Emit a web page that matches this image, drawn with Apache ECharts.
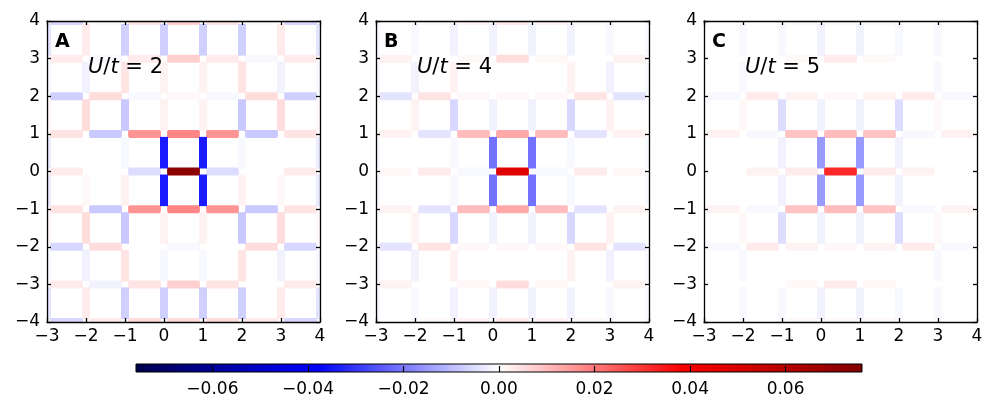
<!DOCTYPE html>
<html lang="en">
<head>
    <meta charset="UTF-8"/>
    <title>bond correlations</title>
    <script src="https://cdn.jsdelivr.net/npm/echarts@6/dist/echarts.min.js"></script>
</head>
<body style="margin:0;background:#fff">
<div id="main" style="width:997px;height:410px"></div>
<script type="text/javascript">
    // panel labels
    var panelNames = ['A', 'B', 'C'];
    var ratios = ['2', '4', '5'];
    var cbTicks = [-0.06, -0.04, -0.02, 0.00, 0.02, 0.04, 0.06];
    var vLimit = 0.076;

    // horizontal bonds: rows y = 4 .. -4, columns are left ends x = -3 .. 3
    var hA = [
        [-0.006, 0.001, 0.004, 0.007, 0.004, 0.001, -0.006],
        [0.003, -0.001, 0.003, 0.007, 0.003, -0.001, 0.003],
        [-0.007, 0.005, -0.001, 0.001, -0.001, 0.005, -0.007],
        [0.004, -0.008, 0.016, 0.018, 0.016, -0.008, 0.004],
        [0.003, 0.000, -0.005, 0.072, -0.005, 0.000, 0.003],
        [0.004, -0.008, 0.016, 0.018, 0.016, -0.008, 0.004],
        [-0.006, 0.005, 0.000, -0.001, 0.000, 0.005, -0.006],
        [0.003, -0.002, 0.004, 0.007, 0.004, 0.000, 0.003],
        [-0.006, 0.003, 0.005, 0.005, 0.005, 0.003, -0.006]
    ];
    // vertical bonds: rows are bottom ends y = 3 .. -4, columns x = -3 .. 4
    var vA = [
        [-0.004, 0.003, -0.007, -0.007, -0.007, -0.007, 0.003, -0.004],
        [-0.001, -0.002, 0.004, 0.002, 0.002, 0.004, -0.002, -0.001],
        [0.001, 0.005, -0.008, 0.002, 0.002, -0.008, 0.005, 0.001],
        [-0.003, 0.000, -0.001, -0.034, -0.034, -0.001, 0.000, -0.003],
        [-0.003, 0.001, 0.002, -0.034, -0.034, 0.002, 0.001, -0.003],
        [0.001, 0.005, -0.008, 0.002, 0.002, -0.008, 0.005, 0.001],
        [-0.001, -0.002, 0.004, -0.001, -0.001, 0.004, -0.002, -0.001],
        [-0.004, 0.003, -0.007, -0.007, -0.007, -0.007, 0.003, -0.004]
    ];

    var hB = [
        [0.000, 0.001, 0.002, 0.003, 0.002, 0.001, 0.000],
        [0.002, 0.000, 0.001, 0.005, 0.001, 0.000, 0.002],
        [-0.004, 0.004, 0.001, 0.001, 0.001, 0.004, -0.004],
        [0.002, -0.004, 0.010, 0.013, 0.010, -0.004, 0.002],
        [0.001, 0.003, -0.001, 0.048, -0.001, 0.003, 0.001],
        [0.002, -0.004, 0.010, 0.013, 0.010, -0.004, 0.002],
        [-0.004, 0.004, 0.001, 0.001, 0.001, 0.004, -0.004],
        [0.002, 0.000, 0.001, 0.005, 0.001, 0.000, 0.002],
        [0.000, 0.001, 0.002, 0.003, 0.002, 0.001, 0.000]
    ];
    var vB = [
        [-0.001, -0.001, -0.002, -0.002, -0.002, -0.002, -0.001, -0.001],
        [-0.001, -0.002, 0.002, 0.000, 0.000, 0.002, -0.002, -0.001],
        [0.000, 0.002, -0.006, -0.002, -0.002, -0.006, 0.002, 0.000],
        [-0.001, 0.000, -0.001, -0.021, -0.021, -0.001, 0.000, -0.001],
        [-0.001, 0.000, -0.001, -0.021, -0.021, -0.001, 0.000, -0.001],
        [0.000, 0.002, -0.006, -0.002, -0.002, -0.006, 0.002, 0.000],
        [-0.001, -0.002, 0.002, 0.000, 0.000, 0.002, -0.002, -0.001],
        [-0.001, -0.001, -0.002, -0.002, -0.002, -0.002, -0.001, -0.001]
    ];

    var hC = [
        [0.000, 0.000, 0.001, 0.001, 0.001, 0.000, 0.000],
        [0.000, 0.000, 0.001, 0.003, 0.001, 0.000, 0.000],
        [-0.001, 0.003, 0.002, 0.001, 0.002, 0.003, -0.001],
        [0.002, -0.001, 0.009, 0.010, 0.009, -0.001, 0.002],
        [0.000, 0.002, 0.003, 0.032, 0.003, 0.002, 0.000],
        [0.002, -0.001, 0.009, 0.010, 0.009, -0.001, 0.002],
        [-0.001, 0.003, 0.002, 0.001, 0.002, 0.003, -0.001],
        [0.000, 0.000, 0.001, 0.003, 0.001, 0.000, 0.000],
        [0.000, 0.000, 0.001, 0.001, 0.001, 0.000, 0.000]
    ];
    var vC = [
        [0.000, -0.001, -0.001, -0.002, -0.002, -0.001, -0.001, 0.000],
        [0.000, -0.001, 0.000, 0.000, 0.000, 0.000, -0.001, 0.000],
        [0.000, 0.001, -0.005, -0.002, -0.002, -0.005, 0.001, 0.000],
        [0.000, 0.000, -0.002, -0.015, -0.015, -0.002, 0.000, 0.000],
        [0.000, 0.000, -0.002, -0.015, -0.015, -0.002, 0.000, 0.000],
        [0.000, 0.001, -0.005, -0.002, -0.002, -0.005, 0.001, 0.000],
        [0.000, -0.001, 0.000, 0.000, 0.000, 0.000, -0.001, 0.000],
        [0.000, -0.001, -0.001, -0.002, -0.002, -0.001, -0.001, 0.000]
    ];

    var seismic = ['#00004d', '#0000ff', '#ffffff', '#ff0000', '#800000'];
    var font = 'DejaVu Sans';

    function bonds(h, v) {
        var out = [];
        for (var r = 0; r < h.length; r++) {
            for (var c = 0; c < h[r].length; c++) {
                out.push([-3 + c, 4 - r, -2 + c, 4 - r, h[r][c]]);
            }
        }
        for (var r = 0; r < v.length; r++) {
            for (var c = 0; c < v[r].length; c++) {
                out.push([-3 + c, 3 - r, -3 + c, 4 - r, v[r][c]]);
            }
        }
        return out;
    }

    function minus(val) {
        return String(val).replace('-', '\u2212');
    }

    function renderBond(params, api) {
        var x1 = api.value(0), y1 = api.value(1), x2 = api.value(2), y2 = api.value(3);
        var s = 0.08;
        if (y1 === y2) { x1 += s; x2 -= s; } else { y1 += s; y2 -= s; }
        var p1 = api.coord([x1, y1]);
        var p2 = api.coord([x2, y2]);
        return {
            type: 'line',
            shape: {x1: p1[0], y1: p1[1], x2: p2[0], y2: p2[1]},
            style: {stroke: api.visual('color'), lineWidth: 8, lineCap: 'butt'}
        };
    }

    var gridLefts = [47, 376, 704];
    var allData = [bonds(hA, vA), bonds(hB, vB), bonds(hC, vC)];

    var grids = [], xAxes = [], yAxes = [], series = [], graphics = [];
    var line = {show: true, onZero: false, lineStyle: {color: '#000', width: 1.3}};
    var tick = {show: true, inside: true, length: 4, lineStyle: {color: '#000', width: 1.3}};
    for (var i = 0; i < 3; i++) {
        grids.push({left: gridLefts[i], top: 21, width: 273, height: 301});
        xAxes.push({
            gridIndex: i, type: 'value', min: -3, max: 4, interval: 1, position: 'bottom', z: 5,
            axisLine: line, axisTick: tick, splitLine: {show: false},
            axisLabel: {color: '#000', fontSize: 17, fontFamily: font, margin: 6, formatter: minus}
        });
        xAxes.push({
            gridIndex: i, type: 'value', min: -3, max: 4, interval: 1, position: 'top', z: 5,
            axisLine: line, axisTick: tick, splitLine: {show: false}, axisLabel: {show: false}
        });
        yAxes.push({
            gridIndex: i, type: 'value', min: -4, max: 4, interval: 1, position: 'left', z: 5,
            axisLine: line, axisTick: tick, splitLine: {show: false},
            axisLabel: {color: '#000', fontSize: 17, fontFamily: font, margin: 7, formatter: minus}
        });
        yAxes.push({
            gridIndex: i, type: 'value', min: -4, max: 4, interval: 1, position: 'right', z: 5,
            axisLine: line, axisTick: tick, splitLine: {show: false}, axisLabel: {show: false}
        });
        series.push({
            type: 'custom', xAxisIndex: 2 * i, yAxisIndex: 2 * i, clip: true,
            encode: {x: [0, 2], y: [1, 3]},
            renderItem: renderBond, data: allData[i]
        });
        graphics.push({
            type: 'text', left: gridLefts[i] + 8, top: 33, z: 100,
            style: {text: panelNames[i], font: 'bold 19px "DejaVu Sans"', fill: '#000'}
        });
        graphics.push({
            type: 'text', left: gridLefts[i] + 41, top: 57, z: 100,
            style: {
                text: '{i|U}/{i|t} = ' + ratios[i],
                font: '21px "DejaVu Sans"', fill: '#000',
                rich: {i: {fontStyle: 'italic', fontSize: 21, fontFamily: font}}
            }
        });
    }

    // colorbar
    grids.push({left: 136, top: 364, width: 726, height: 8});
    xAxes.push({
        gridIndex: 3, type: 'value', min: -vLimit, max: vLimit, position: 'bottom', z: 5,
        axisLine: {show: false}, splitLine: {show: false},
        axisTick: {show: true, inside: true, length: 6, customValues: cbTicks, lineStyle: {color: '#000', width: 1.2}},
        axisLabel: {
            color: '#000', fontSize: 17, fontFamily: font, margin: 9, customValues: cbTicks,
            formatter: function (v) { return minus(v.toFixed(2)); }
        }
    });
    yAxes.push({gridIndex: 3, type: 'value', min: 0, max: 1, show: false});
    var stops = seismic.map(function (c, k) { return {offset: k / (seismic.length - 1), color: c}; });
    series.push({
        type: 'custom', xAxisIndex: 6, yAxisIndex: 6, silent: true,
        data: [[-vLimit, vLimit]],
        renderItem: function (params, api) {
            var p1 = api.coord([api.value(0), 1]);
            var p2 = api.coord([api.value(1), 0]);
            return {
                type: 'rect',
                shape: {x: p1[0], y: p1[1], width: p2[0] - p1[0], height: p2[1] - p1[1]},
                style: {fill: new echarts.graphic.LinearGradient(0, 0, 1, 0, stops), stroke: '#000', lineWidth: 1}
            };
        }
    });

    var myChart = echarts.init(document.getElementById('main'));
    var option = {
        animation: false,
        backgroundColor: '#fff',
        grid: grids,
        xAxis: xAxes,
        yAxis: yAxes,
        visualMap: {
            type: 'continuous', show: false, min: -vLimit, max: vLimit,
            dimension: 4, seriesIndex: [0, 1, 2],
            inRange: {color: seismic}
        },
        series: series,
        graphic: graphics
    };
    myChart.setOption(option);
</script>
</body>
</html>
